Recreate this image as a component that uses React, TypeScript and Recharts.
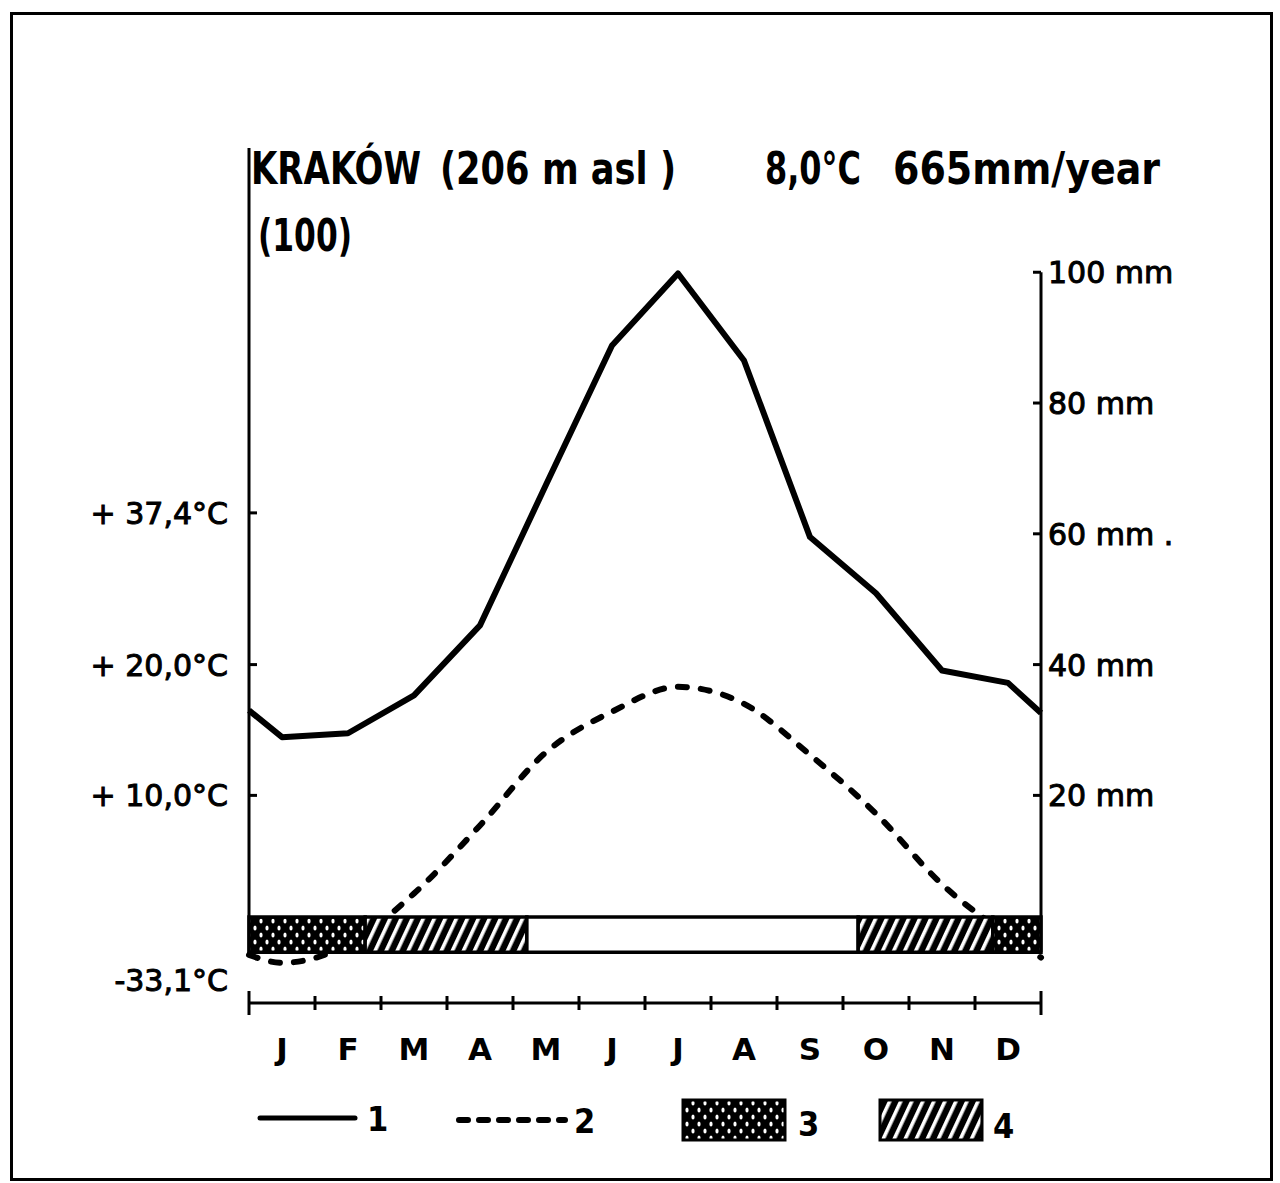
import React from 'react';
import { LineChart, Line, XAxis, YAxis, ReferenceArea, ReferenceLine } from 'recharts';

const months = ['J', 'F', 'M', 'A', 'M', 'J', 'J', 'A', 'S', 'O', 'N', 'D'];
// monthly precipitation (mm)
const precipitation = [28.9, 29.5, 35.3, 46.0, 67.5, 88.8, 99.8, 86.5, 59.5, 50.9, 39.1, 37.2];
// monthly mean temperature (°C)
const temperature = [-2.8, -1.4, 2.5, 7.7, 13.3, 16.4, 18.3, 17.0, 13.1, 8.6, 3.2, -0.7];
// where the curves meet the left / right frame
const precipEdges = [33.0, 32.6];
const tempEdges = [-2.2, -2.4];

const precipTicks = [20, 40, 60, 80, 100];
const precipTickLabels = ['20 mm', '40 mm', '60 mm .', '80 mm', '100 mm'];
const tempTicks = [-4.1, 10, 20, 31.6];
const tempTickLabels = ['-33,1°C', '+ 10,0°C', '+ 20,0°C', '+ 37,4°C'];

// frost bar under the plot, in months from 1 Jan
const frostStart = [0, 1.76, 4.21, 9.23, 11.27];
const frostEnd = [1.76, 4.21, 9.23, 11.27, 12];
const frostKind = ['min', 'abs', 'none', 'abs', 'min'];

// 10 °C = 20 mm
const P_MAX = 119;
const P_MIN = -11.75;
const STRIP_TOP = 1.4;
const STRIP_BOTTOM = -4.0;

const rows = [
    { m: 0, p: precipEdges[0], t: tempEdges[0] },
    ...months.map((_, i) => ({ m: i + 0.5, p: precipitation[i], t: temperature[i] })),
    { m: 12, p: precipEdges[1], t: tempEdges[1] },
];

const xTicks = Array.from({ length: 25 }, (_, i) => i / 2);

const FONT = "'DejaVu Sans', sans-serif";
const COND = "'DejaVu Sans Condensed', 'Liberation Sans Narrow', sans-serif";

function Patterns({ prefix }: { prefix: string }) {
    return (
        <defs>
            <pattern id={`${prefix}dots`} width="12" height="14" patternUnits="userSpaceOnUse">
                <rect width="12" height="14" fill="#000" />
                <ellipse cx="3" cy="4" rx="1.6" ry="2.6" fill="#fff" />
                <ellipse cx="9" cy="11" rx="1.6" ry="2.6" fill="#fff" />
            </pattern>
            <pattern
                id={`${prefix}hatch`}
                width="10"
                height="10"
                patternUnits="userSpaceOnUse"
                patternTransform="rotate(25)"
            >
                <rect width="10" height="10" fill="#000" />
                <rect x="0" width="3.6" height="10" fill="#fff" />
            </pattern>
        </defs>
    );
}

const MonthTick = ({ x, y, payload }: any) => {
    const v = payload.value as number;
    if (Number.isInteger(v)) {
        const end = v === 0 || v === 12;
        const h = end ? 12 : 7;
        return <line x1={x} x2={x} y1={y - h} y2={y + h} stroke="#000" strokeWidth={3} />;
    }
    return (
        <text x={x} y={y + 57} textAnchor="middle" fontFamily={FONT} fontWeight="bold" fontSize={31} fill="#000">
            {months[Math.floor(v)]}
        </text>
    );
};

const PrecipTick = ({ x, y, payload }: any) => {
    const label = precipTickLabels[precipTicks.indexOf(payload.value)];
    return (
        <g>
            <line x1={x - 8} x2={x} y1={y} y2={y} stroke="#000" strokeWidth={3} />
            <text x={x + 7} y={y + 11} fontFamily={FONT} fontSize={30} fill="#000" stroke="#000" strokeWidth={1}>
                {label}
            </text>
        </g>
    );
};

const TempTick = ({ x, y, payload }: any) => {
    const v = payload.value as number;
    const label = tempTickLabels[tempTicks.indexOf(v)];
    return (
        <g>
            {v >= 0 && <line x1={x} x2={x + 8} y1={y} y2={y} stroke="#000" strokeWidth={3} />}
            <text x={x - 21} y={y + 11} textAnchor="end" fontFamily={FONT} fontSize={30} fill="#000" stroke="#000" strokeWidth={1}>
                {label}
            </text>
        </g>
    );
};

export default function App() {
    return (
        <div style={{ position: 'absolute', left: 0, top: 0, width: 1280, height: 1183, background: '#fff' }}>
            <div
                style={{
                    position: 'absolute',
                    left: 10,
                    top: 12,
                    width: 1263,
                    height: 1169,
                    border: '3px solid #000',
                    boxSizing: 'border-box',
                }}
            />
            <div style={{ position: 'absolute', left: 0, top: 0 }}>
                <LineChart width={1280} height={1183} data={rows} margin={{ top: 148, right: 39, bottom: 120, left: 49 }}>
                    <Patterns prefix="c-" />
                    <XAxis
                        dataKey="m"
                        type="number"
                        domain={[0, 12]}
                        ticks={xTicks}
                        interval={0}
                        height={60}
                        tickSize={0}
                        tickMargin={0}
                        tickLine={false}
                        axisLine={{ stroke: '#000', strokeWidth: 3 }}
                        tick={<MonthTick />}
                    />
                    <YAxis
                        yAxisId="t"
                        orientation="left"
                        width={200}
                        type="number"
                        domain={[P_MIN / 2, P_MAX / 2]}
                        ticks={tempTicks}
                        interval={0}
                        tickSize={0}
                        tickMargin={0}
                        axisLine={false}
                        tickLine={false}
                        tick={<TempTick />}
                    />
                    <YAxis
                        yAxisId="p"
                        orientation="right"
                        width={200}
                        type="number"
                        domain={[P_MIN, P_MAX]}
                        ticks={precipTicks}
                        interval={0}
                        tickSize={0}
                        tickMargin={0}
                        axisLine={false}
                        tickLine={false}
                        tick={<PrecipTick />}
                    />
                    <Line
                        yAxisId="t"
                        dataKey="t"
                        type="monotone"
                        stroke="#000"
                        strokeWidth={6}
                        strokeDasharray="9 14"
                        strokeLinecap="round"
                        dot={false}
                        activeDot={false}
                        isAnimationActive={false}
                    />
                    <Line
                        yAxisId="p"
                        dataKey="p"
                        type="linear"
                        stroke="#000"
                        strokeWidth={6}
                        strokeLinejoin="round"
                        dot={false}
                        activeDot={false}
                        isAnimationActive={false}
                    />
                    {frostStart.map((s, i) => (
                        <ReferenceArea
                            key={i}
                            yAxisId="p"
                            x1={s}
                            x2={frostEnd[i]}
                            y1={STRIP_BOTTOM}
                            y2={STRIP_TOP}
                            fill={frostKind[i] === 'min' ? 'url(#c-dots)' : frostKind[i] === 'abs' ? 'url(#c-hatch)' : '#fff'}
                            fillOpacity={1}
                            stroke="#000"
                            strokeWidth={3.5}
                            zIndex={600}
                        />
                    ))}
                    <ReferenceLine
                        yAxisId="p"
                        segment={[{ x: 0, y: STRIP_BOTTOM }, { x: 0, y: P_MAX }]}
                        stroke="#000"
                        strokeWidth={3}
                        zIndex={700}
                    />
                    <ReferenceLine
                        yAxisId="p"
                        segment={[{ x: 12, y: STRIP_BOTTOM }, { x: 12, y: 100 }]}
                        stroke="#000"
                        strokeWidth={3}
                        zIndex={700}
                    />
                </LineChart>
            </div>
            <svg width={1280} height={1183} style={{ position: 'absolute', left: 0, top: 0, pointerEvents: 'none' }}>
                <Patterns prefix="l-" />
                <g fontFamily={COND} fontWeight="bold" fontSize={44} fill="#000">
                    <text x={251} y={184} textLength={170} lengthAdjust="spacingAndGlyphs">KRAKÓW</text>
                    <text x={440} y={184} textLength={236} lengthAdjust="spacingAndGlyphs">(206 m asl )</text>
                    <text x={765} y={184} textLength={96} lengthAdjust="spacingAndGlyphs">8,0°C</text>
                    <text x={893} y={184} textLength={267} lengthAdjust="spacingAndGlyphs">665mm/year</text>
                    <text x={258} y={251} textLength={94} lengthAdjust="spacingAndGlyphs">(100)</text>
                </g>
                <line x1={260} x2={355} y1={1118} y2={1118} stroke="#000" strokeWidth={5} strokeLinecap="round" />
                <line x1={459} x2={565} y1={1120} y2={1120} stroke="#000" strokeWidth={6} strokeDasharray="9 11" strokeLinecap="round" />
                <rect x={683} y={1100} width={102} height={40} fill="url(#l-dots)" stroke="#000" strokeWidth={3} />
                <rect x={880} y={1100} width={102} height={40} fill="url(#l-hatch)" stroke="#000" strokeWidth={3} />
                <g fontFamily={COND} fontWeight="bold" fontSize={34} fill="#000">
                    <text x={367} y={1131}>1</text>
                    <text x={574} y={1133}>2</text>
                    <text x={798} y={1136}>3</text>
                    <text x={993} y={1138}>4</text>
                </g>
            </svg>
        </div>
    );
}
